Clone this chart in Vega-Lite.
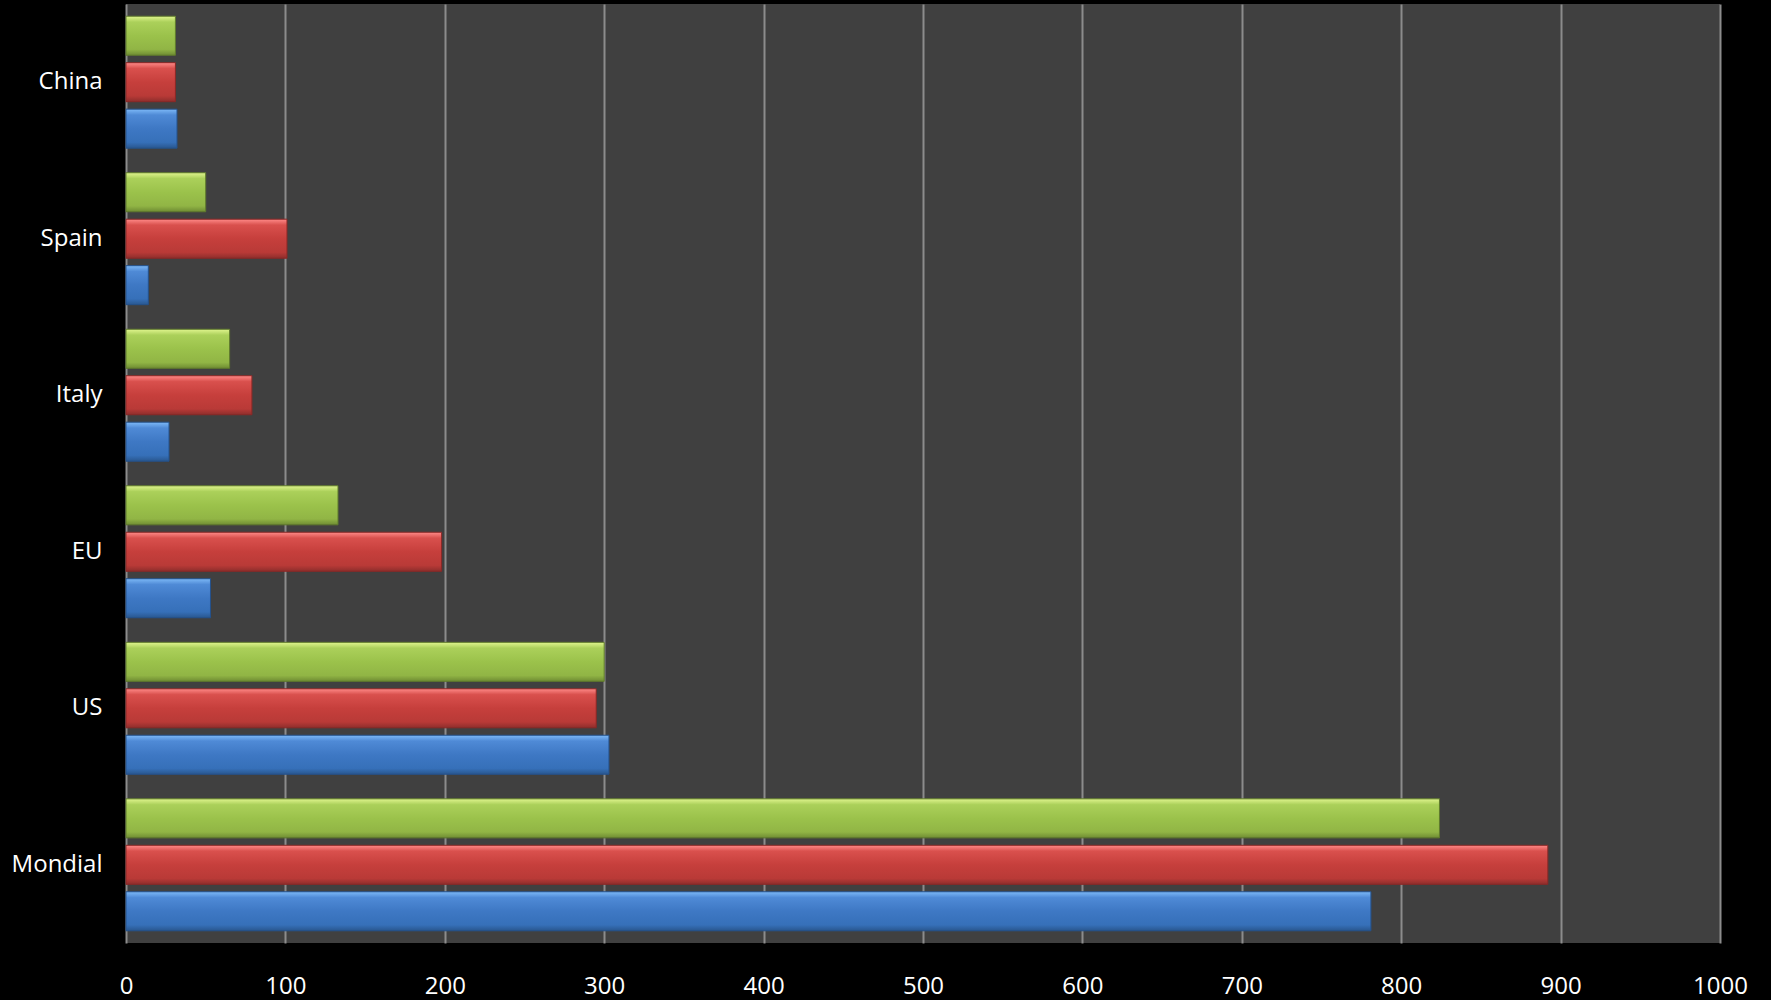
{
  "$schema": "https://vega.github.io/schema/vega-lite/v6.json",
  "width": 1594,
  "height": 939,
  "autosize": {"type": "none"},
  "padding": {"left": 126, "top": 4, "right": 51, "bottom": 57},
  "background": "#000000",
  "config": {
    "view": {"fill": "#404040", "stroke": null},
    "font": "Open Sans"
  },
  "data": {
    "values": [
      {"region": "China", "series": "s1", "value": 32},
      {"region": "China", "series": "s2", "value": 31},
      {"region": "China", "series": "s3", "value": 31},
      {"region": "Spain", "series": "s1", "value": 14},
      {"region": "Spain", "series": "s2", "value": 101},
      {"region": "Spain", "series": "s3", "value": 50},
      {"region": "Italy", "series": "s1", "value": 27},
      {"region": "Italy", "series": "s2", "value": 79},
      {"region": "Italy", "series": "s3", "value": 65},
      {"region": "EU", "series": "s1", "value": 53},
      {"region": "EU", "series": "s2", "value": 198},
      {"region": "EU", "series": "s3", "value": 133},
      {"region": "US", "series": "s1", "value": 303},
      {"region": "US", "series": "s2", "value": 295},
      {"region": "US", "series": "s3", "value": 300},
      {"region": "Mondial", "series": "s1", "value": 781},
      {"region": "Mondial", "series": "s2", "value": 892},
      {"region": "Mondial", "series": "s3", "value": 824}
    ]
  },
  "encoding": {
    "y": {
      "field": "region",
      "type": "nominal",
      "sort": ["China", "Spain", "Italy", "EU", "US", "Mondial"],
      "scale": {"paddingInner": 0.157, "paddingOuter": 0.078},
      "axis": {
        "title": null,
        "ticks": false,
        "domain": false,
        "labelColor": "#ffffff",
        "labelFontSize": 24,
        "labelPadding": 24,
        "labelFont": "Open Sans"
      }
    },
    "yOffset": {
      "field": "series",
      "type": "nominal",
      "scale": {"domain": ["s3", "s2", "s1"], "paddingInner": 0.16, "paddingOuter": 0}
    },
    "x": {
      "field": "value",
      "type": "quantitative",
      "scale": {"domain": [0, 1000], "nice": false},
      "axis": {
        "title": null,
        "values": [0, 100, 200, 300, 400, 500, 600, 700, 800, 900, 1000],
        "format": "d",
        "ticks": false,
        "domain": false,
        "grid": true,
        "gridColor": "#8c8c8c",
        "gridWidth": 2,
        "labelColor": "#ffffff",
        "labelFontSize": 24,
        "labelPadding": 31,
        "labelFont": "Open Sans",
        "labelFlush": false
      }
    }
  },
  "layer": [
    {
      "transform": [{"filter": "datum.series === 's1'"}],
      "mark": {
        "type": "bar",
        "stroke": "#24528c",
        "strokeWidth": 1,
        "color": {
          "gradient": "linear", "x1": 0, "y1": 0, "x2": 0, "y2": 1,
          "stops": [
            {"offset": 0, "color": "#7db9f7"},
            {"offset": 0.15, "color": "#4f8ad6"},
            {"offset": 0.5, "color": "#3e78c4"},
            {"offset": 0.85, "color": "#3670b9"},
            {"offset": 1, "color": "#29578f"}
          ]
        }
      }
    },
    {
      "transform": [{"filter": "datum.series === 's2'"}],
      "mark": {
        "type": "bar",
        "stroke": "#8a2826",
        "strokeWidth": 1,
        "color": {
          "gradient": "linear", "x1": 0, "y1": 0, "x2": 0, "y2": 1,
          "stops": [
            {"offset": 0, "color": "#ff8a88"},
            {"offset": 0.15, "color": "#d9504d"},
            {"offset": 0.5, "color": "#c63f3c"},
            {"offset": 0.85, "color": "#b93a37"},
            {"offset": 1, "color": "#8e2e2c"}
          ]
        }
      }
    },
    {
      "transform": [{"filter": "datum.series === 's3'"}],
      "mark": {
        "type": "bar",
        "stroke": "#5f7a2c",
        "strokeWidth": 1,
        "color": {
          "gradient": "linear", "x1": 0, "y1": 0, "x2": 0, "y2": 1,
          "stops": [
            {"offset": 0, "color": "#e0f58e"},
            {"offset": 0.15, "color": "#abd05a"},
            {"offset": 0.5, "color": "#9bc24b"},
            {"offset": 0.85, "color": "#91b545"},
            {"offset": 1, "color": "#6f8c33"}
          ]
        }
      }
    }
  ]
}
